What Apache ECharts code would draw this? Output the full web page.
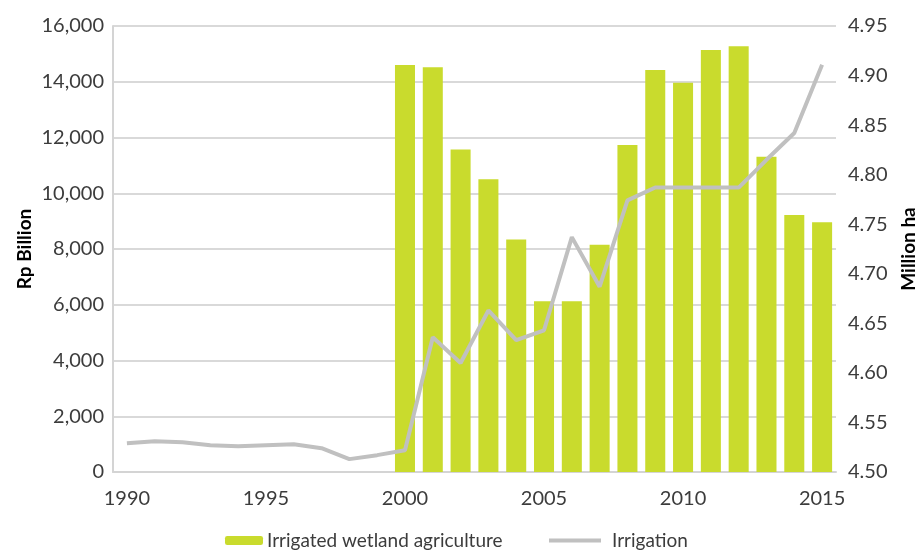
<!DOCTYPE html>
<html><head><meta charset="utf-8">
<script src="https://cdn.jsdelivr.net/npm/echarts@6/dist/echarts.min.js"></script>
<style>html,body{margin:0;padding:0;background:#fff}#c{width:922px;height:550px}</style>
</head><body><div id="c"></div>
<script>
const years = ['1990','1991','1992','1993','1994','1995','1996','1997','1998','1999','2000','2001','2002','2003','2004','2005','2006','2007','2008','2009','2010','2011','2012','2013','2014','2015'];
const wetlandAgri = [null,null,null,null,null,null,null,null,null,null,14600,14520,11570,10500,8340,6130,6130,8150,11730,14420,13960,15140,15270,11310,9220,8960];
const irrigation = [4.529,4.531,4.530,4.527,4.526,4.527,4.528,4.524,4.513,4.517,4.522,4.636,4.610,4.663,4.633,4.643,4.737,4.687,4.774,4.787,4.787,4.787,4.787,4.815,4.842,4.911];

const FONT = 'Lato';
const TXT = '#3c3c3c';
const chart = echarts.init(document.getElementById('c'));
chart.setOption({
  animation:false,
  textStyle:{fontFamily:FONT},
  grid:{left:113,right:86,top:26,bottom:78,containLabel:false,outerBoundsMode:'none'},
  legend:[
    {data:['Irrigated wetland agriculture'],left:225,top:531,padding:0,itemWidth:38,itemHeight:9,itemGap:10,
     textStyle:{fontFamily:FONT,fontSize:19,color:TXT,padding:[0,0,0,-1]}},
    {data:[{name:'Irrigation',icon:'rect'}],left:549,top:531,padding:0,itemWidth:52,itemHeight:4,
     textStyle:{fontFamily:FONT,fontSize:19,color:TXT,padding:[0,0,0,6]}}
  ],
  xAxis:{type:'category',data:years,boundaryGap:true,
    axisLine:{lineStyle:{color:'#d4d4d4',width:2}},axisTick:{show:false},
    axisLabel:{interval:4,color:TXT,fontSize:20,margin:17,fontFamily:FONT}},
  yAxis:[
    {type:'value',min:0,max:16000,interval:2000,name:'Rp Billion',nameLocation:'middle',nameGap:79,nameRotate:90,nameMoveOverlap:false,
     nameTextStyle:{fontWeight:'bold',fontSize:19,color:'#000',fontFamily:FONT},
     axisLine:{show:true,lineStyle:{color:'#d4d4d4',width:2}},axisTick:{show:false},
     axisLabel:{color:TXT,fontSize:20,margin:9,fontFamily:FONT,formatter:v=>v.toLocaleString('en-US')},
     splitLine:{lineStyle:{color:'#d9d9d9',width:2}}},
    {type:'value',min:4.5,max:4.95,interval:0.05,name:'Million ha',nameLocation:'middle',nameGap:63,nameRotate:90,nameMoveOverlap:false,
     nameTextStyle:{fontWeight:'bold',fontSize:19,color:'#000',fontFamily:FONT},
     axisLine:{show:false},axisTick:{show:false},splitLine:{show:false},
     axisLabel:{color:TXT,fontSize:20,margin:12,fontFamily:FONT,formatter:v=>v.toFixed(2)}}
  ],
  series:[
    {name:'Irrigated wetland agriculture',type:'bar',data:wetlandAgri,yAxisIndex:0,barCategoryGap:'28%',
     itemStyle:{color:'#c9db2d'}},
    {name:'Irrigation',type:'line',data:irrigation,yAxisIndex:1,symbol:'none',smooth:false,
     lineStyle:{color:'#c0c0c0',width:4},itemStyle:{color:'#c0c0c0'}}
  ]
});
</script></body></html>
